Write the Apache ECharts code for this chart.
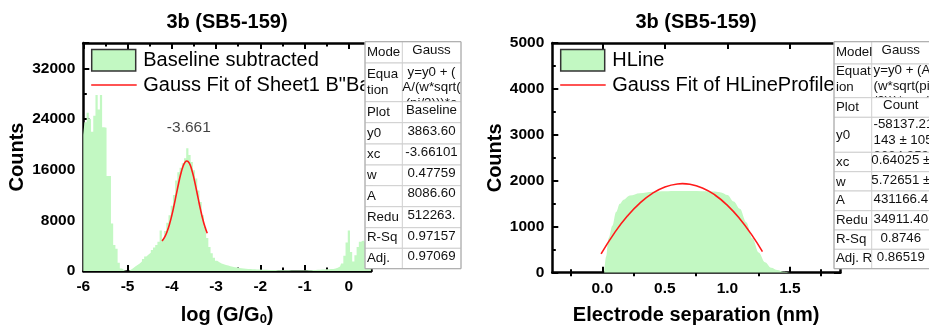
<!DOCTYPE html>
<html>
<head>
<meta charset="utf-8">
<script src="https://cdn.jsdelivr.net/npm/echarts@6/dist/echarts.min.js"></script>
<style>
html, body { margin: 0; padding: 0; background: #fff; }
#chart { width: 929px; height: 331px; }
</style>
</head>
<body>
<div id="chart"></div>
<script>
// ---- Conductance histogram (left panel) ----
const logG = [
  -6.00, -5.95, -5.90, -5.85, -5.80, -5.75, -5.70, -5.65, -5.60, -5.55,
  -5.50, -5.45, -5.40, -5.35, -5.30, -5.25, -5.20, -5.15, -5.10, -5.05,
  -5.00, -4.95, -4.90, -4.85, -4.80, -4.75, -4.70, -4.65, -4.60, -4.55,
  -4.50, -4.45, -4.40, -4.35, -4.30, -4.25, -4.20, -4.15, -4.10, -4.05,
  -4.00, -3.95, -3.90, -3.85, -3.80, -3.75, -3.70, -3.65, -3.60, -3.55,
  -3.50, -3.45, -3.40, -3.35, -3.30, -3.25, -3.20, -3.15, -3.10, -3.05,
  -3.00, -2.95, -2.90, -2.85, -2.80, -2.75, -2.70, -2.65, -2.60, -2.55,
  -2.50, -2.45, -2.40, -2.35, -2.30, -2.25, -2.20, -2.15, -2.10, -2.05,
  -2.00, -1.90, -1.80, -1.70, -1.60, -1.50, -1.40, -1.30, -1.20, -1.10,
  -1.00, -0.90, -0.80, -0.70, -0.60, -0.50, -0.40, -0.30, -0.25, -0.20,
  -0.15, -0.10, -0.05, 0.00, 0.05, 0.10, 0.15, 0.20, 0.25, 0.30,
  0.35, 0.40, 0.45, 0.50
];
const logGCounts = [
  21500, 23500, 25000, 24000, 22000, 24500, 27800, 25500, 27800, 22700,
  22600, 15000, 15000, 7500, 4100, 3500, 1300, 400, 100, 0,
  0, 200, 450, 700, 950, 1200, 1500, 1900, 2300, 2600,
  2900, 3300, 3700, 4100, 4600, 6400, 5000, 6300, 7600, 8800,
  10300, 12000, 14300, 15600, 16300, 17000, 17800, 19400, 18300, 17200,
  15900, 14600, 12700, 10900, 8800, 7000, 5200, 3800, 2800, 2100,
  1600, 1400, 1200, 1050, 940, 850, 750, 680, 600, 540,
  480, 430, 390, 350, 320, 300, 280, 260, 240, 220,
  210, 190, 170, 150, 130, 110, 100, 90, 80, 80,
  90, 120, 160, 200, 240, 280, 320, 400, 500, 700,
  1200, 2400, 4500, 6400, 3000, 1500, 2500, 3800, 4600, 4800,
  4500, 3800, 3000, 2500
];
// Gauss fit of the molecular peak
const fitLogG = [-4.22, -4.15, -4.10, -4.05, -4.00, -3.95, -3.90, -3.85, -3.80, -3.75, -3.70,
                 -3.66, -3.60, -3.55, -3.50, -3.45, -3.40, -3.35, -3.30, -3.25, -3.20];
const fitLogGCounts = [4736, 5524, 6358, 7448, 8795, 10359, 12051, 13741, 15269, 16467, 17195,
                       17374, 16940, 15990, 14627, 13007, 11298, 9649, 8173, 6936, 5960];
const peakCenter = -3.661;
const peakLabelCounts = 22700;

// ---- Plateau-length profile (right panel) ----
const separation = [0.015, 0.03, 0.05, 0.08, 0.11, 0.14, 0.17, 0.22, 0.30, 0.40, 0.50, 0.60,
                    0.70, 0.80, 0.90, 0.95, 1.00, 1.05, 1.10, 1.15, 1.20, 1.25, 1.30, 1.35,
                    1.40, 1.45, 1.50];
const separationCounts = [0, 350, 750, 1020, 1320, 1500, 1590, 1680, 1730, 1760, 1772, 1776,
                          1776, 1774, 1765, 1745, 1690, 1550, 1390, 1100, 750, 440, 230, 110,
                          60, 20, 0];
const fitSeparation = [-0.01, 0.1, 0.2, 0.3, 0.4, 0.5, 0.6, 0.64, 0.7, 0.8, 0.9, 1.0, 1.1, 1.2, 1.28];
const fitSeparationCounts = [409, 878, 1232, 1515, 1727, 1866, 1932, 1938, 1925, 1845, 1692, 1466, 1169, 801, 457];

// ---- Tick labels / text ----
const panelTitle = '3b (SB5-159)';
const sepMajorTicks = [0, 0.5, 1.0, 1.5];
const sepMinorTicks = [-0.25, 0.25, 0.75, 1.25, 1.75];
const leftLegend = ['Baseline subtracted', 'Gauss Fit of Sheet1 B"Baseline subtracted"'];
const rightLegend = ['HLine', 'Gauss Fit of HLineProfile'];

// fit-result tables
const leftTableKeys = ['Mode', 'Equa\ntion', 'Plot', 'y0', 'xc', 'w', 'A', 'Redu', 'R-Sq', 'Adj.'];
const leftTableVals = ['Gauss', 'y=y0 + (\nA/(w*sqrt(\n(pi/2)))*e', 'Baseline', '3863.60', '-3.66101',
                       '0.47759', '8086.60', '512263.', '0.97157', '0.97069'];
const rightTableKeys = ['Model', 'Equat\nion', 'Plot', 'y0', 'xc', 'w', 'A', 'Redu', 'R-Sq', 'Adj. R'];
const rightTableVals = ['Gauss', 'y=y0 + (A/\n(w*sqrt(pi\n/2)))*exp(-2', 'Count', '-58137.21\n143 ± 105\n3034.959',
                        '0.64025 ±', '5.72651 ±', '431166.4', '34911.40', '0.8746', '0.86519'];

// ---- styling ----
const FONT = "'Liberation Sans', Arial, sans-serif";
const GREEN = '#c2f8c2';
const RED = '#ff1a1a';

function pairs(xs, ys) { return xs.map((x, i) => [x, ys[i]]); }

const tickLabel = { color: '#000', fontSize: 15.5, fontWeight: 'bold', fontFamily: FONT, margin: 8 };
const axisTitle = { color: '#000', fontSize: 20, fontWeight: 'bold', fontFamily: FONT };

function frameAxis(extra) {
  return Object.assign({
    type: 'value',
    axisLine: { show: true, onZero: false, lineStyle: { color: '#000', width: 2.5 } },
    axisTick: { show: true, inside: true, length: 6, lineStyle: { color: '#000', width: 2 } },
    minorTick: { show: true, splitNumber: 2, length: 3.5, lineStyle: { color: '#000', width: 2 } },
    axisLabel: { show: false },
    splitLine: { show: false },
    minorSplitLine: { show: false }
  }, extra);
}

const xAxes = [
  // left panel
  frameAxis({ gridIndex: 0, position: 'bottom', min: -6, max: 0.5, interval: 1,
    axisLabel: Object.assign({ show: true, showMaxLabel: false, formatter: v => String(v) }, tickLabel),
    name: 'log (G/G{sub|0})', nameLocation: 'middle', nameGap: 33,
    nameTextStyle: Object.assign({ rich: { sub: { fontSize: 13, fontWeight: 'bold', fontFamily: FONT, padding: [9, 0, 0, 0] } } }, axisTitle) }),
  frameAxis({ gridIndex: 0, position: 'top', min: -6, max: 0.5, interval: 1 }),
  // right panel: bottom major, bottom minor, top major, top minor
  frameAxis({ gridIndex: 1, position: 'bottom', min: -0.4, max: 1.9,
    axisTick: { show: true, inside: true, length: 6, customValues: sepMajorTicks, lineStyle: { color: '#000', width: 2 } },
    minorTick: { show: false },
    axisLabel: Object.assign({ show: true, customValues: sepMajorTicks, formatter: v => v.toFixed(1) }, tickLabel),
    name: 'Electrode separation (nm)', nameLocation: 'middle', nameGap: 33, nameTextStyle: axisTitle }),
  frameAxis({ gridIndex: 1, position: 'bottom', min: -0.4, max: 1.9,
    axisLine: { show: false },
    axisTick: { show: true, inside: true, length: 3.5, customValues: sepMinorTicks, lineStyle: { color: '#000', width: 2 } },
    minorTick: { show: false } }),
  frameAxis({ gridIndex: 1, position: 'top', min: -0.4, max: 1.9,
    axisTick: { show: true, inside: true, length: 6, customValues: sepMajorTicks, lineStyle: { color: '#000', width: 2 } },
    minorTick: { show: false } }),
  frameAxis({ gridIndex: 1, position: 'top', min: -0.4, max: 1.9,
    axisLine: { show: false },
    axisTick: { show: true, inside: true, length: 3.5, customValues: sepMinorTicks, lineStyle: { color: '#000', width: 2 } },
    minorTick: { show: false } })
];

const yAxes = [
  frameAxis({ gridIndex: 0, position: 'left', min: 0, max: 36000, interval: 8000,
    axisLabel: Object.assign({ show: true, showMaxLabel: false, formatter: v => String(v) }, tickLabel),
    name: 'Counts', nameLocation: 'middle', nameGap: 56, nameRotate: 90, nameTextStyle: axisTitle }),
  frameAxis({ gridIndex: 0, position: 'right', min: 0, max: 36000, interval: 8000 }),
  frameAxis({ gridIndex: 1, position: 'left', min: 0, max: 5000, interval: 1000,
    axisLabel: Object.assign({ show: true, formatter: v => String(v) }, tickLabel),
    name: 'Counts', nameLocation: 'middle', nameGap: 47, nameRotate: 90, nameTextStyle: axisTitle }),
  frameAxis({ gridIndex: 1, position: 'right', min: 0, max: 5000, interval: 1000 })
];

const series = [
  { name: leftLegend[0], type: 'line', xAxisIndex: 0, yAxisIndex: 0, step: 'middle',
    data: pairs(logG, logGCounts), showSymbol: false, silent: true,
    lineStyle: { width: 0 }, areaStyle: { color: GREEN, opacity: 1 } },
  { name: leftLegend[1], type: 'line', xAxisIndex: 0, yAxisIndex: 0, smooth: true,
    data: pairs(fitLogG, fitLogGCounts), showSymbol: false, silent: true,
    lineStyle: { color: RED, width: 1.6 } },
  { type: 'scatter', xAxisIndex: 0, yAxisIndex: 0, data: [[peakCenter, peakLabelCounts]],
    symbolSize: 0, silent: true,
    label: { show: true, position: 'inside', offset: [2, 0], formatter: p => p.value[0].toFixed(3),
             color: '#111', fontSize: 15.5, fontFamily: FONT } },
  { name: rightLegend[0], type: 'line', xAxisIndex: 2, yAxisIndex: 2, smooth: 0.35, smoothMonotone: 'x',
    data: pairs(separation, separationCounts), showSymbol: false, silent: true,
    lineStyle: { width: 0 }, areaStyle: { color: GREEN, opacity: 1 } },
  { name: rightLegend[1], type: 'line', xAxisIndex: 2, yAxisIndex: 2, smooth: true,
    data: pairs(fitSeparation, fitSeparationCounts), showSymbol: false, silent: true,
    lineStyle: { color: RED, width: 1.6 } }
];

// ---- overlay graphics: titles, legends, fit tables ----
const graphics = [];
function text(x, y, t, style, z) {
  graphics.push({ type: 'text', x: x, y: y, z: z || 50, silent: true,
    style: Object.assign({ text: t, fontFamily: FONT, fill: '#000', verticalAlign: 'middle' }, style) });
}
text(227, 22, panelTitle, { fontSize: 20, fontWeight: 'bold', align: 'center' });
text(696, 22, panelTitle, { fontSize: 20, fontWeight: 'bold', align: 'center' });

function legend(x, names) {
  graphics.push({ type: 'rect', z: 50, silent: true, shape: { x: x, y: 49.5, width: 44, height: 21.5 },
    style: { fill: GREEN, stroke: '#333', lineWidth: 1.5 } });
  graphics.push({ type: 'line', z: 50, silent: true, shape: { x1: x - 0.5, y1: 85, x2: x + 45, y2: 85 },
    style: { stroke: RED, lineWidth: 1.6 } });
  text(x + 51.5, 60.5, names[0], { fontSize: 20 });
  text(x + 51.5, 85.5, names[1], { fontSize: 20, width: 240, overflow: 'truncate', ellipsis: '' });
}
legend(91.7, leftLegend);
legend(560.7, rightLegend);

function table(t) {
  let z = 100;
  for (let i = 0; i < t.keys.length; i++) {
    const top = t.edges[i], h = t.edges[i + 1] - t.edges[i];
    graphics.push({ type: 'rect', z: z, silent: true, shape: { x: t.x0, y: top, width: t.x1 - t.x0, height: h },
      style: { fill: '#fff', stroke: '#cfcfcf', lineWidth: 1 } });
    graphics.push({ type: 'line', z: z, silent: true, shape: { x1: t.xDiv, y1: top, x2: t.xDiv, y2: top + h },
      style: { stroke: '#cfcfcf', lineWidth: 1 } });
    text(t.x0 + 2, t.keyY[i], t.keys[i], { fontSize: 13.3, fill: '#111', lineHeight: t.keyLH }, z + 1);
    const leftAligned = t.leftRows.indexOf(i) >= 0;
    text(leftAligned ? t.xDiv + 1.8 : t.valX, t.valY[i], t.vals[i],
      { fontSize: 13.3, fill: '#111', align: leftAligned ? 'left' : 'center', lineHeight: t.valLH }, z + 1);
    z += 2;
  }
  graphics.push({ type: 'rect', z: z, silent: true,
    shape: { x: t.x0, y: t.edges[0], width: t.x1 - t.x0, height: t.edges[t.edges.length - 1] - t.edges[0] },
    style: { fill: 'none', stroke: '#a8a8a8', lineWidth: 1 } });
}
table({
  x0: 365, xDiv: 402.3, x1: 461, valX: 431.5, leftRows: [],
  edges: [41.7, 63, 101.7, 122.7, 144, 165, 185.7, 206.7, 227.7, 248.3, 268.7],
  keys: leftTableKeys, vals: leftTableVals,
  keyY: [52, 82, 112, 133, 154.3, 175, 196, 217, 237.6, 258],
  valY: [50.5, 87.5, 110.5, 131.5, 152, 173, 193.8, 215.4, 236, 256.4],
  keyLH: 16, valLH: 15.5
});
table({
  x0: 834, xDiv: 871.7, x1: 945, valX: 900.8, leftRows: [1, 3],
  edges: [41.7, 64, 97.7, 117.3, 152.3, 171.7, 191, 210.7, 230, 249.3, 268.7],
  keys: rightTableKeys, vals: rightTableVals,
  keyY: [52, 79, 107.6, 135.2, 162, 182, 200.4, 220.4, 239.4, 258.6],
  valY: [50.8, 86, 105.4, 140.2, 160.8, 180.8, 199.8, 219.8, 238.8, 257.8],
  keyLH: 15.7, valLH: 15.7
});

const chart = echarts.init(document.getElementById('chart'), null, { renderer: 'canvas' });
chart.setOption({
  backgroundColor: '#fff',
  animation: false,
  grid: [
    { left: 83.3, top: 43, width: 287.7, height: 229.7 },
    { left: 552.3, top: 43, width: 287.7, height: 229.7 }
  ],
  xAxis: xAxes,
  yAxis: yAxes,
  series: series,
  graphic: graphics
});
</script>
</body>
</html>
